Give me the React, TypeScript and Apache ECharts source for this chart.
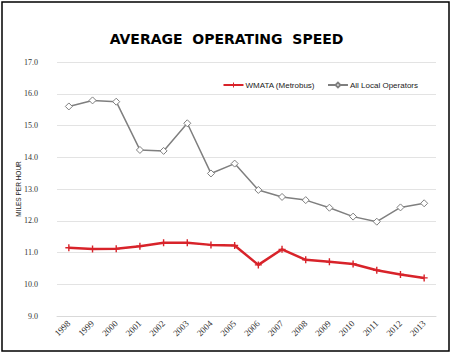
import React, { useEffect, useRef } from "react";
import * as echarts from "echarts";

const years = ["1998","1999","2000","2001","2002","2003","2004","2005","2006","2007","2008","2009","2010","2011","2012","2013"];
const wmata = [11.15, 11.11, 11.12, 11.2, 11.31, 11.31, 11.24, 11.22, 10.61, 11.1, 10.77, 10.71, 10.64, 10.44, 10.31, 10.2];
const allLocal = [15.6, 15.79, 15.75, 14.23, 14.2, 15.07, 13.49, 13.8, 12.97, 12.75, 12.65, 12.41, 12.13, 11.97, 12.42, 12.55];
const yMin = 9;
const yMax = 17;
const yStep = 1;

const plusPath = "path://M2,0H3V2H5V3H3V5H2V3H0V2H2Z";

export default function App() {
  const ref = useRef<HTMLDivElement>(null);
  useEffect(() => {
    const chart = echarts.init(ref.current!, null, { renderer: "svg" });
    chart.setOption({
      animation: false,
      backgroundColor: "#ffffff",
      title: {
        text: "AVERAGE  OPERATING  SPEED",
        left: "center",
        top: 27,
        textStyle: { fontFamily: "DejaVu Sans", fontWeight: "bold", fontSize: 14, color: "#000" },
      },
      legend: {
        right: 30,
        top: 76,
        itemWidth: 20,
        itemHeight: 6,
        itemGap: 12,
        textStyle: { fontFamily: "Liberation Sans", fontSize: 8, color: "#222", padding: [0, 0, 0, -3] },
        data: ["WMATA (Metrobus)", "All Local Operators"],
      },
      grid: { left: 57, right: 17, top: 62, bottom: 41 },
      xAxis: {
        type: "category",
        data: years,
        boundaryGap: true,
        axisLine: { show: true, lineStyle: { color: "#d9d9d9" } },
        axisTick: { show: false },
        axisLabel: { rotate: 45, margin: 6, fontFamily: "Liberation Serif", fontSize: 9, color: "#333" },
      },
      yAxis: {
        type: "value",
        min: yMin,
        max: yMax,
        interval: yStep,
        name: "MILES PER HOUR",
        nameLocation: "middle",
        nameGap: 35,
        nameMoveOverlap: false,
        nameTextStyle: { fontFamily: "Liberation Sans", fontSize: 6.5, color: "#222" },
        axisLine: { show: false },
        axisTick: { show: false },
        splitLine: { lineStyle: { color: "#e3e3e3" } },
        axisLabel: {
          formatter: (v: number) => v.toFixed(1),
          fontFamily: "Liberation Serif",
          fontSize: 8,
          color: "#333",
          margin: 19,
        },
      },
      series: [
        {
          name: "WMATA (Metrobus)",
          type: "line",
          data: wmata,
          symbol: plusPath,
          symbolSize: 7,
          lineStyle: { color: "#d8232a", width: 2.5 },
          itemStyle: { color: "#d8232a" },
          z: 3,
        },
        {
          name: "All Local Operators",
          type: "line",
          data: allLocal,
          symbol: "diamond",
          symbolSize: 7,
          lineStyle: { color: "#7f7f7f", width: 1.5 },
          itemStyle: { color: "#ffffff", borderColor: "#7f7f7f", borderWidth: 1 },
          z: 2,
        },
      ],
      graphic: [
        {
          type: "rect",
          shape: { x: 2, y: 2, width: 447, height: 349 },
          style: { fill: "none", stroke: "#000", lineWidth: 1.5 },
          silent: true,
        },
      ],
    });
    return () => chart.dispose();
  }, []);
  return <div ref={ref} style={{ position: "fixed", left: 0, top: 0, width: 453, height: 357 }} />;
}
